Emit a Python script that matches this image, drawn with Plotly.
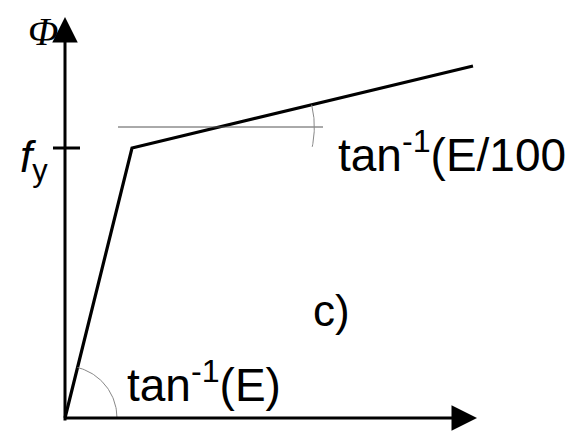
import numpy as np
import plotly.graph_objects as go

# --- schematic data (bilinear stress-strain law) ---
strain = [0, 67, 408]          # origin, yield point, end of hardening branch
stress = [0, 270, 352]
fy = 270                       # yield level (tick on vertical axis)
guide_level = 291              # thin horizontal reference line
guide_x = [53, 258]
axis_x_end = 412
axis_y_end = 401

labels_phi = "Φ"
label_fy = "<i>f</i><sub>y</sub>"
label_top = "tan<sup>-1</sup>(E/100"
label_bottom = "tan<sup>-1</sup>(E)"
label_case = "c)"

fig = go.Figure()

# main bilinear curve
fig.add_trace(go.Scatter(x=strain, y=stress, mode="lines",
                         line=dict(color="black", width=3.2), hoverinfo="skip"))

# thin horizontal guide
fig.add_trace(go.Scatter(x=guide_x, y=[guide_level, guide_level], mode="lines",
                         line=dict(color="#555555", width=1), hoverinfo="skip"))

# angle arc at origin (between x axis and elastic branch)
a1 = np.arctan2(stress[1] - stress[0], strain[1] - strain[0])
t1 = np.linspace(0, a1, 40)
r1 = 52
fig.add_trace(go.Scatter(x=r1 * np.cos(t1), y=r1 * np.sin(t1), mode="lines",
                         line=dict(color="#888888", width=1), hoverinfo="skip"))

# angle arc at intersection of guide line and hardening branch
slope2 = (stress[2] - stress[1]) / (strain[2] - strain[1])
cx = strain[1] + (guide_level - stress[1]) / slope2
a2 = np.arctan(slope2)
t2 = np.linspace(a2, -0.21, 40)
r2 = 95
fig.add_trace(go.Scatter(x=cx + r2 * np.cos(t2), y=guide_level + r2 * np.sin(t2),
                         mode="lines", line=dict(color="#888888", width=1),
                         hoverinfo="skip"))

# yield tick on vertical axis
fig.add_shape(type="line", x0=-12, x1=15, y0=fy, y1=fy,
              line=dict(color="black", width=3))

# axes with arrows
fig.add_annotation(x=0, y=axis_y_end, ax=0, ay=-4, xref="x", yref="y",
                   axref="x", ayref="y", showarrow=True, arrowhead=2,
                   arrowsize=1.7, arrowwidth=3, arrowcolor="black", text="")
fig.add_annotation(x=axis_x_end, y=0, ax=-2, ay=0, xref="x", yref="y",
                   axref="x", ayref="y", showarrow=True, arrowhead=2,
                   arrowsize=1.7, arrowwidth=3, arrowcolor="black", text="")

sans = "Liberation Sans, Arial, sans-serif"
fig.add_annotation(x=-22, y=387, text="<i>" + labels_phi + "</i>", showarrow=False,
                   font=dict(family="Liberation Serif, Times New Roman, serif",
                             size=40, color="black"))
fig.add_annotation(x=-15, y=258, text=label_fy, showarrow=False, xanchor="right",
                   font=dict(family=sans, size=44, color="black"))
fig.add_annotation(x=271, y=266, text=label_top, showarrow=False, xanchor="left",
                   font=dict(family=sans, size=46, color="black"))
fig.add_annotation(x=60, y=36, text=label_bottom, showarrow=False, xanchor="left",
                   font=dict(family=sans, size=46, color="black"))
fig.add_annotation(x=266, y=108, text=label_case, showarrow=False,
                   font=dict(family=sans, size=44, color="black"))

# page body has an 8px margin: figure is 567x424 and ranges keep 1 unit = 1 px
fig.update_layout(width=567, height=424, margin=dict(l=0, r=0, t=0, b=0),
                  paper_bgcolor="white", plot_bgcolor="white", showlegend=False,
                  xaxis=dict(range=[-57, 510], visible=False, fixedrange=True),
                  yaxis=dict(range=[-14, 410], visible=False, fixedrange=True))

fig.write_html("out.html")
